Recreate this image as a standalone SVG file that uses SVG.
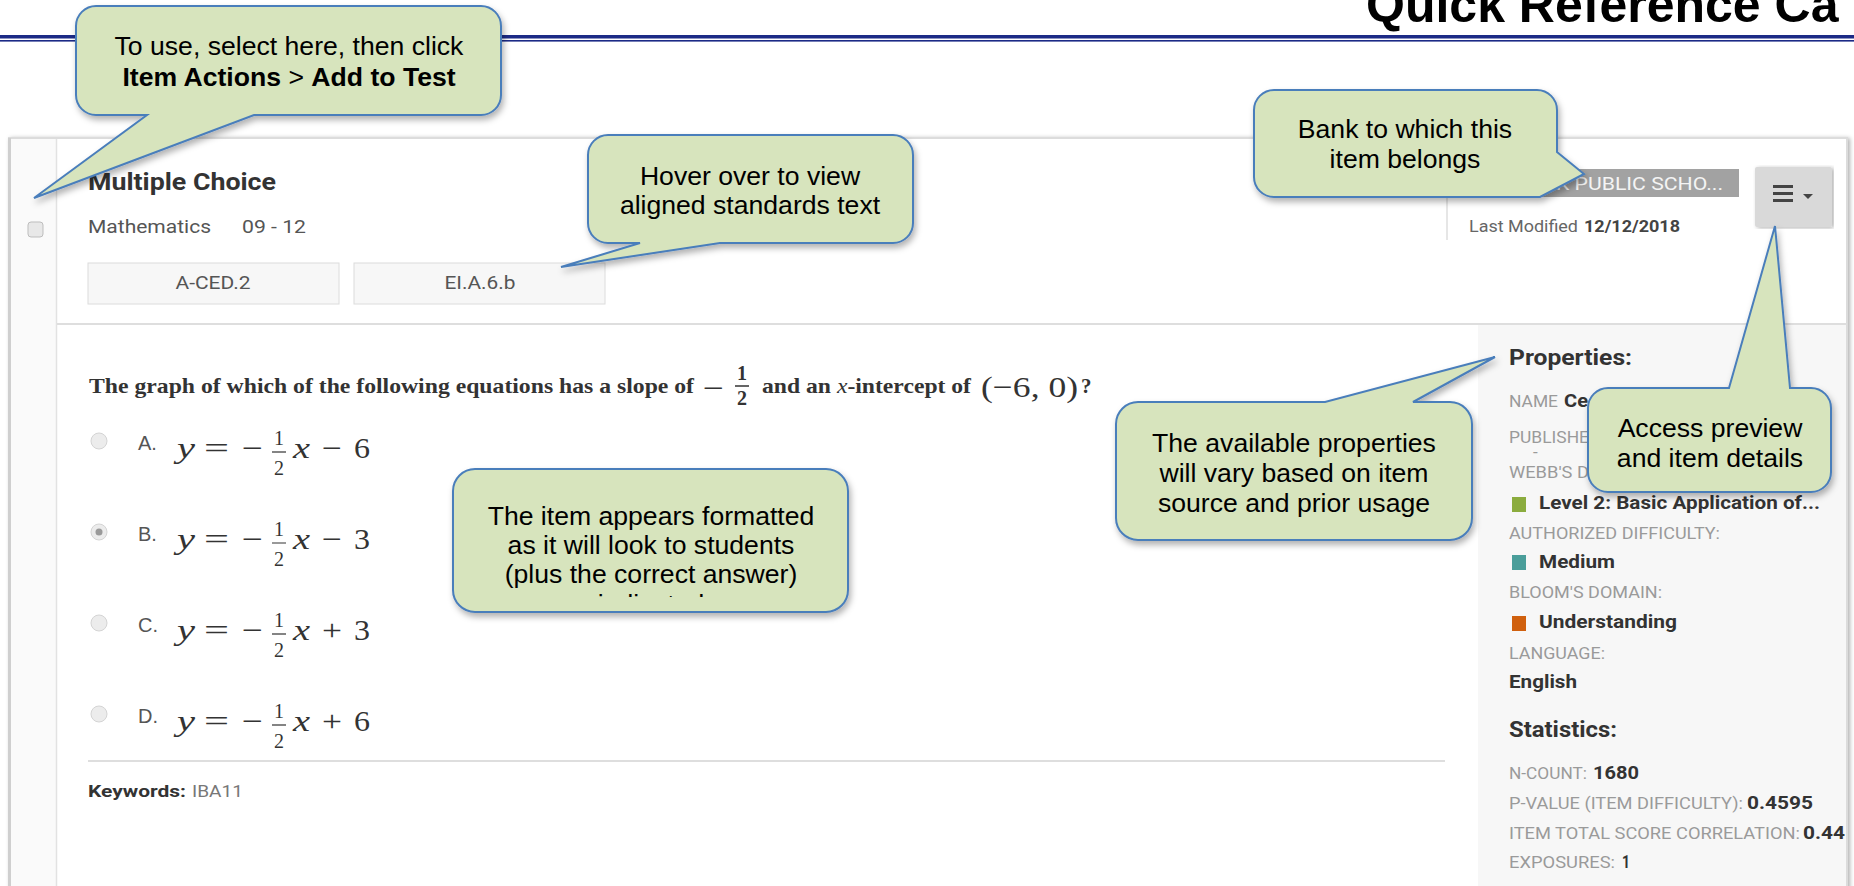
<svg xmlns="http://www.w3.org/2000/svg" width="1854" height="886" viewBox="0 0 1854 886">
<style>
.co{fill:#d7e4bd;stroke:#4a7ebb;stroke-width:2;filter:url(#sh)}
.ct{font-family:'Liberation Sans',Arial,sans-serif;font-size:26.6px;fill:#000;text-anchor:middle}
.ctb{font-weight:bold}
.ui{font-family:Roboto,'Liberation Sans',Arial,sans-serif}
.lbl{font-family:Roboto,'Liberation Sans',Arial,sans-serif;font-size:17px;fill:#9a9a9a}
.val{font-family:Roboto,'Liberation Sans',Arial,sans-serif;font-size:19px;font-weight:bold;fill:#333}
.m{font-family:'Liberation Serif','Times New Roman',serif;font-size:30px;fill:#333}
.mi{font-style:italic}
.fr{font-family:'Liberation Serif','Times New Roman',serif;font-size:20px;fill:#333;text-anchor:middle}
.opt{font-family:'Liberation Sans',Arial,sans-serif;font-size:20px;fill:#555}
.q{font-family:'Liberation Serif','Times New Roman',serif;font-size:21px;font-weight:bold;fill:#333}
.rad{fill:#ececec;stroke:#d4d4d4;stroke-width:1}
.sep{stroke:#dedede;stroke-width:2}
</style>
<defs>
<filter id="sh" x="-10%" y="-10%" width="125%" height="140%">
<feDropShadow dx="2" dy="4" stdDeviation="3" flood-color="#000" flood-opacity="0.3"/>
</filter>
<filter id="cardsh" x="-2%" y="-2%" width="104%" height="104%">
<feDropShadow dx="2" dy="1" stdDeviation="2" flood-color="#000" flood-opacity="0.3"/>
</filter>
<clipPath id="clipItem"><rect x="450" y="470" width="400" height="127"/></clipPath>
</defs>
<rect width="1854" height="886" fill="#fff"/>

<g id="header">
<text x="1366" y="22" font-family="'Liberation Sans',Arial,sans-serif" font-size="50" font-weight="bold" fill="#000">Quick Reference Ca</text>
<rect x="0" y="35" width="1854" height="3.5" fill="#1c2a86"/>
<rect x="0" y="40" width="1854" height="1.6" fill="#1c2a86"/>
</g>

<g id="card">
<rect x="9" y="138" width="1838" height="770" fill="#fff" stroke="#dcdcdc" stroke-width="2" filter="url(#cardsh)"/>
<rect x="8" y="138" width="3" height="760" fill="#cfcfcf"/>
<rect x="11" y="139" width="45" height="760" fill="#fafafa"/>
<line x1="56.5" y1="139" x2="56.5" y2="886" stroke="#e2e2e2" stroke-width="1.5"/>
<rect x="28" y="222" width="15" height="15" rx="3" fill="#e8e8e8" stroke="#bdbdbd"/>
<line x1="57" y1="324" x2="1847" y2="324" class="sep"/>
<rect x="1478" y="325" width="368" height="570" fill="#f7f7f7"/>
</g>

<g id="item-header">
<text x="88" y="190" class="ui" font-size="24" font-weight="bold" fill="#333" textLength="188" lengthAdjust="spacingAndGlyphs">Multiple Choice</text>
<text x="88" y="233" class="ui" font-size="19" fill="#555" textLength="123" lengthAdjust="spacingAndGlyphs">Mathematics</text>
<text x="242" y="233" class="ui" font-size="19" fill="#555" textLength="64" lengthAdjust="spacingAndGlyphs">09 - 12</text>
<rect x="88" y="263" width="251" height="41" fill="#f7f7f7" stroke="#dcdcdc"/>
<text x="213" y="289" class="ui" font-size="19" fill="#555" text-anchor="middle" textLength="75" lengthAdjust="spacingAndGlyphs">A-CED.2</text>
<rect x="354" y="263" width="251" height="41" fill="#f7f7f7" stroke="#dcdcdc"/>
<text x="480" y="289" class="ui" font-size="19" fill="#555" text-anchor="middle" textLength="71" lengthAdjust="spacingAndGlyphs">EI.A.6.b</text>
<line x1="1447" y1="175" x2="1447" y2="240" stroke="#dedede" stroke-width="1.5"/>
<rect x="1525" y="169" width="214" height="28" fill="#a2a2a2"/>
<text x="1556" y="190" class="ui" font-size="19" fill="#f4f4f4" textLength="167" lengthAdjust="spacingAndGlyphs">K PUBLIC SCHO...</text>
<text x="1469" y="232" class="ui" font-size="16" fill="#666" textLength="109" lengthAdjust="spacingAndGlyphs">Last Modified</text>
<text x="1584" y="232" class="ui" font-size="17" font-weight="bold" fill="#444" textLength="96" lengthAdjust="spacingAndGlyphs">12/12/2018</text>
</g>

<g id="menu-button">
<rect x="1755" y="167" width="77" height="60" rx="2" fill="#d9d9d9" filter="url(#cardsh)"/>
<rect x="1773" y="185" width="20" height="3" fill="#444"/>
<rect x="1773" y="192" width="20" height="3" fill="#444"/>
<rect x="1773" y="199" width="20" height="3" fill="#444"/>
<path d="M1803,194 L1813,194 L1808,199 Z" fill="#444"/>
</g>

<g id="question">
<text x="89" y="393" class="q" textLength="605" lengthAdjust="spacingAndGlyphs">The graph of which of the following equations has a slope of</text>
<text x="703" y="398" class="m" textLength="21" lengthAdjust="spacingAndGlyphs">−</text>
<text x="742" y="380" class="fr" font-weight="bold">1</text>
<line x1="735" y1="386" x2="749" y2="386" stroke="#333" stroke-width="1.5"/>
<text x="742" y="405" class="fr" font-weight="bold">2</text>
<text x="762" y="393" class="q" textLength="209" lengthAdjust="spacingAndGlyphs">and an <tspan font-style="italic" font-weight="normal">x</tspan>-intercept of</text>
<text x="981" y="397" class="m" font-size="36" textLength="97" lengthAdjust="spacingAndGlyphs">(−6, 0)</text>
<text x="1081" y="393" class="q">?</text>
</g>

<g id="option-a">
<circle cx="99" cy="441" r="8" class="rad"/>
<text x="138" y="450" class="opt">A.</text>
<text x="177" y="458" class="m mi" textLength="18" lengthAdjust="spacingAndGlyphs">y</text>
<text x="204" y="458" class="m" textLength="25" lengthAdjust="spacingAndGlyphs">=</text>
<text x="242" y="458" class="m" textLength="21" lengthAdjust="spacingAndGlyphs">−</text>
<text x="279" y="445" class="fr">1</text>
<line x1="272" y1="452" x2="286" y2="452" stroke="#333" stroke-width="1.2"/>
<text x="279" y="475" class="fr">2</text>
<text x="293" y="458" class="m mi" textLength="17" lengthAdjust="spacingAndGlyphs">x</text>
<text x="322" y="458" class="m" textLength="20" lengthAdjust="spacingAndGlyphs">−</text>
<text x="354" y="458" class="m" textLength="16" lengthAdjust="spacingAndGlyphs">6</text>
</g>

<g id="option-b" transform="translate(0,91)">
<circle cx="99" cy="441" r="8" class="rad"/>
<circle cx="99" cy="441" r="3.5" fill="#9a9a9a"/>
<text x="138" y="450" class="opt">B.</text>
<text x="177" y="458" class="m mi" textLength="18" lengthAdjust="spacingAndGlyphs">y</text>
<text x="204" y="458" class="m" textLength="25" lengthAdjust="spacingAndGlyphs">=</text>
<text x="242" y="458" class="m" fill="#888" textLength="21" lengthAdjust="spacingAndGlyphs">−</text>
<text x="279" y="445" class="fr">1</text>
<line x1="272" y1="452" x2="286" y2="452" stroke="#555" stroke-width="1.2"/>
<text x="279" y="475" class="fr">2</text>
<text x="293" y="458" class="m mi" textLength="17" lengthAdjust="spacingAndGlyphs">x</text>
<text x="322" y="458" class="m" fill="#888" textLength="20" lengthAdjust="spacingAndGlyphs">−</text>
<text x="354" y="458" class="m" textLength="16" lengthAdjust="spacingAndGlyphs">3</text>
</g>

<g id="option-c" transform="translate(0,182)">
<circle cx="99" cy="441" r="8" class="rad"/>
<text x="138" y="450" class="opt">C.</text>
<text x="177" y="458" class="m mi" textLength="18" lengthAdjust="spacingAndGlyphs">y</text>
<text x="204" y="458" class="m" textLength="25" lengthAdjust="spacingAndGlyphs">=</text>
<text x="242" y="458" class="m" textLength="21" lengthAdjust="spacingAndGlyphs">−</text>
<text x="279" y="445" class="fr">1</text>
<line x1="272" y1="452" x2="286" y2="452" stroke="#333" stroke-width="1.2"/>
<text x="279" y="475" class="fr">2</text>
<text x="293" y="458" class="m mi" textLength="17" lengthAdjust="spacingAndGlyphs">x</text>
<text x="322" y="458" class="m" textLength="20" lengthAdjust="spacingAndGlyphs">+</text>
<text x="354" y="458" class="m" textLength="16" lengthAdjust="spacingAndGlyphs">3</text>
</g>

<g id="option-d" transform="translate(0,273)">
<circle cx="99" cy="441" r="8" class="rad"/>
<text x="138" y="450" class="opt">D.</text>
<text x="177" y="458" class="m mi" textLength="18" lengthAdjust="spacingAndGlyphs">y</text>
<text x="204" y="458" class="m" textLength="25" lengthAdjust="spacingAndGlyphs">=</text>
<text x="242" y="458" class="m" textLength="21" lengthAdjust="spacingAndGlyphs">−</text>
<text x="279" y="445" class="fr">1</text>
<line x1="272" y1="452" x2="286" y2="452" stroke="#333" stroke-width="1.2"/>
<text x="279" y="475" class="fr">2</text>
<text x="293" y="458" class="m mi" textLength="17" lengthAdjust="spacingAndGlyphs">x</text>
<text x="322" y="458" class="m" textLength="20" lengthAdjust="spacingAndGlyphs">+</text>
<text x="354" y="458" class="m" textLength="16" lengthAdjust="spacingAndGlyphs">6</text>
</g>

<g id="keywords">
<line x1="88" y1="761" x2="1445" y2="761" class="sep"/>
<text x="88" y="797" class="ui" font-size="17" font-weight="bold" fill="#333" textLength="98" lengthAdjust="spacingAndGlyphs">Keywords:</text>
<text x="192" y="797" class="ui" font-size="17" fill="#777" textLength="51" lengthAdjust="spacingAndGlyphs">IBA11</text>
</g>

<g id="properties-panel">
<text x="1509" y="365" class="ui" font-size="22" font-weight="bold" fill="#333" textLength="123" lengthAdjust="spacingAndGlyphs">Properties:</text>
<text x="1509" y="407" class="lbl" textLength="49" lengthAdjust="spacingAndGlyphs">NAME</text>
<text x="1564" y="407" class="val" textLength="24" lengthAdjust="spacingAndGlyphs">Ce</text>
<text x="1509" y="443" class="lbl" textLength="80" lengthAdjust="spacingAndGlyphs">PUBLISHE</text>
<text x="1533" y="458" class="lbl" font-size="12">-</text>
<text x="1509" y="478" class="lbl" textLength="80" lengthAdjust="spacingAndGlyphs">WEBB'S D</text>
<rect x="1512" y="497" width="14" height="15" fill="#8bac3e"/>
<text x="1539" y="509" class="val" textLength="281" lengthAdjust="spacingAndGlyphs">Level 2: Basic Application of...</text>
<text x="1509" y="539" class="lbl" textLength="211" lengthAdjust="spacingAndGlyphs">AUTHORIZED DIFFICULTY:</text>
<rect x="1512" y="555" width="14" height="15" fill="#4a9e9a"/>
<text x="1539" y="568" class="val" textLength="76" lengthAdjust="spacingAndGlyphs">Medium</text>
<text x="1509" y="598" class="lbl" textLength="153" lengthAdjust="spacingAndGlyphs">BLOOM'S DOMAIN:</text>
<rect x="1512" y="616" width="14" height="15" fill="#d0600e"/>
<text x="1539" y="628" class="val" textLength="138" lengthAdjust="spacingAndGlyphs">Understanding</text>
<text x="1509" y="659" class="lbl" textLength="96" lengthAdjust="spacingAndGlyphs">LANGUAGE:</text>
<text x="1509" y="688" class="val" textLength="68" lengthAdjust="spacingAndGlyphs">English</text>
<text x="1509" y="737" class="ui" font-size="22" font-weight="bold" fill="#333" textLength="108" lengthAdjust="spacingAndGlyphs">Statistics:</text>
<text x="1509" y="779" class="lbl" textLength="78" lengthAdjust="spacingAndGlyphs">N-COUNT:</text>
<text x="1593" y="779" class="val" font-size="20" textLength="46" lengthAdjust="spacingAndGlyphs">1680</text>
<text x="1509" y="809" class="lbl" textLength="234" lengthAdjust="spacingAndGlyphs">P-VALUE (ITEM DIFFICULTY):</text>
<text x="1747" y="809" class="val" font-size="20" textLength="66" lengthAdjust="spacingAndGlyphs">0.4595</text>
<text x="1509" y="839" class="lbl" textLength="291" lengthAdjust="spacingAndGlyphs">ITEM TOTAL SCORE CORRELATION:</text>
<text x="1803" y="839" class="val" font-size="20" textLength="42" lengthAdjust="spacingAndGlyphs">0.44</text>
<text x="1509" y="868" class="lbl" textLength="106" lengthAdjust="spacingAndGlyphs">EXPOSURES:</text>
<text x="1622" y="868" class="val" font-size="20" textLength="8" lengthAdjust="spacingAndGlyphs">1</text>
</g>

<g id="callout-select">
<path class="co" d="M96,6 H481 A20,20 0 0 1 501,26 V95 A20,20 0 0 1 481,115 H254 L34,198 L147,115 H96 A20,20 0 0 1 76,95 V26 A20,20 0 0 1 96,6 Z"/>
<text x="289" y="55" class="ct">To use, select here, then click</text>
<text x="289" y="86" class="ct"><tspan class="ctb">Item Actions</tspan> &gt; <tspan class="ctb">Add to Test</tspan></text>
</g>

<g id="callout-standards">
<path class="co" d="M608,135 H893 A20,20 0 0 1 913,155 V223 A20,20 0 0 1 893,243 H720 L561,267 L640,243 H608 A20,20 0 0 1 588,223 V155 A20,20 0 0 1 608,135 Z"/>
<text x="750" y="185" class="ct">Hover over to view</text>
<text x="750" y="214" class="ct">aligned standards text</text>
</g>

<g id="callout-bank">
<path class="co" d="M1274,90 H1537 A20,20 0 0 1 1557,110 V152 L1584,174 L1540,197 H1274 A20,20 0 0 1 1254,177 V110 A20,20 0 0 1 1274,90 Z"/>
<text x="1405" y="138" class="ct">Bank to which this</text>
<text x="1405" y="168" class="ct">item belongs</text>
</g>

<g id="callout-properties">
<path class="co" d="M1138,402 H1325 L1495,357 L1413,402 H1450 A22,22 0 0 1 1472,424 V518 A22,22 0 0 1 1450,540 H1138 A22,22 0 0 1 1116,518 V424 A22,22 0 0 1 1138,402 Z"/>
<text x="1294" y="452" class="ct">The available properties</text>
<text x="1294" y="482" class="ct">will vary based on item</text>
<text x="1294" y="512" class="ct">source and prior usage</text>
</g>

<g id="callout-menu">
<path class="co" d="M1608,388 H1729 L1775,226 L1790,388 H1811 A20,20 0 0 1 1831,408 V472 A20,20 0 0 1 1811,492 H1608 A20,20 0 0 1 1588,472 V408 A20,20 0 0 1 1608,388 Z"/>
<text x="1710" y="437" class="ct">Access preview</text>
<text x="1710" y="467" class="ct">and item details</text>
</g>

<g id="callout-item">
<rect class="co" x="453" y="469" width="395" height="143" rx="22"/>
<g clip-path="url(#clipItem)">
<text x="651" y="525" class="ct">The item appears formatted</text>
<text x="651" y="554" class="ct">as it will look to students</text>
<text x="651" y="583" class="ct">(plus the correct answer)</text>
<text x="651" y="613" class="ct">indicated</text>
</g>
</g>
</svg>
